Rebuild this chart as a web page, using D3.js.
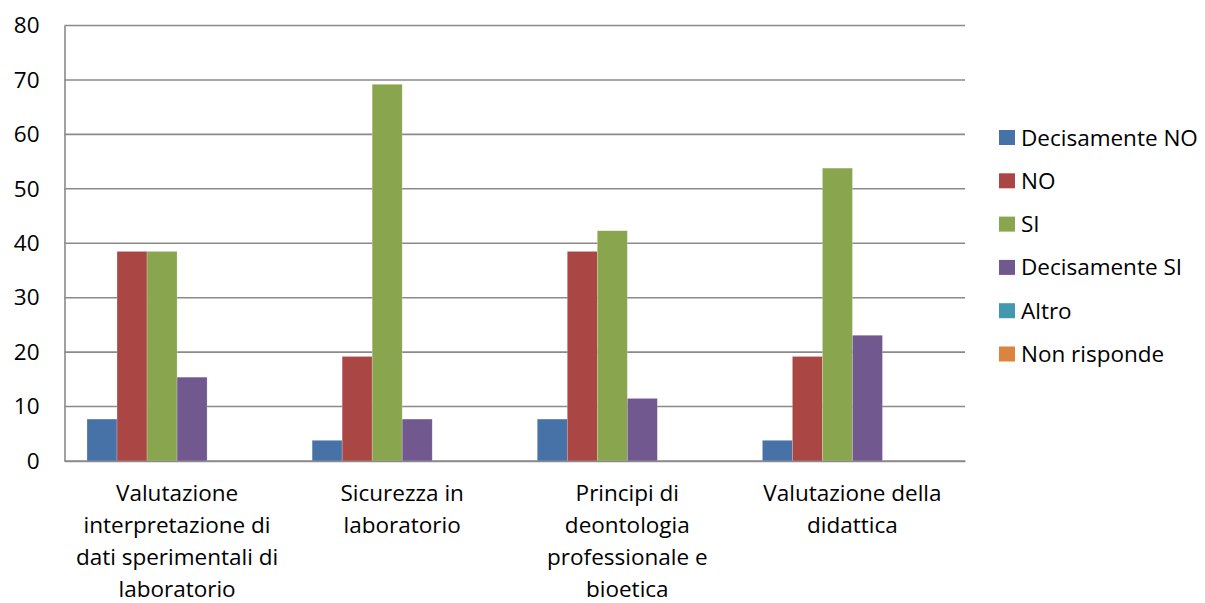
<!DOCTYPE html>
<html>
<head>
<meta charset="utf-8">
<script src="https://cdn.jsdelivr.net/npm/d3@7"></script>
<style>
  body { margin: 0; background: #fff; }
  svg text { font-family: "Open Sans", Lato, sans-serif; fill: #000; }
</style>
</head>
<body>
<svg id="chart" width="1205" height="603"></svg>
<script>
// category labels, already split on the lines they wrap to
const categories = [
  ['Valutazione', 'interpretazione di', 'dati sperimentali di', 'laboratorio'],
  ['Sicurezza in', 'laboratorio'],
  ['Principi di', 'deontologia', 'professionale e', 'bioetica'],
  ['Valutazione della', 'didattica']
];
const seriesNames = ['Decisamente NO', 'NO', 'SI', 'Decisamente SI', 'Altro', 'Non risponde'];
const seriesColors = ['#4672A8', '#AA4643', '#89A54E', '#71588F', '#4198AF', '#DB843D'];

// one array per series, one value per category
const decisamenteNo = [7.7, 3.8, 7.7, 3.8];
const no = [38.5, 19.2, 38.5, 19.2];
const si = [38.5, 69.2, 42.3, 53.8];
const decisamenteSi = [15.4, 7.7, 11.5, 23.1];
const altro = [0, 0, 0, 0];
const nonRisponde = [0, 0, 0, 0];
const yTicks = [0, 10, 20, 30, 40, 50, 60, 70, 80];

const seriesValues = [decisamenteNo, no, si, decisamenteSi, altro, nonRisponde];

const svg = d3.select('#chart');
const margin = { left: 64.5, right: 240, top: 25.5, bottom: 142 };
const width = 1205, height = 603;
const fontSize = '22.5px';

const x0 = d3.scaleBand()
  .domain(d3.range(categories.length))
  .range([margin.left, width - margin.right])
  .paddingInner(0.2)
  .paddingOuter(0.1);

const x1 = d3.scaleBand()
  .domain(d3.range(seriesNames.length))
  .range([0, x0.bandwidth()]);

const y = d3.scaleLinear()
  .domain([0, 80])
  .range([height - margin.bottom, margin.top]);

// gridlines
svg.append('g')
  .selectAll('line')
  .data(yTicks)
  .enter()
  .append('line')
  .attr('x1', margin.left)
  .attr('x2', width - margin.right)
  .attr('y1', d => y(d))
  .attr('y2', d => y(d))
  .attr('stroke', '#8a8a8a')
  .attr('stroke-width', 1.6);

// bars
const groups = svg.append('g')
  .selectAll('g')
  .data(categories)
  .enter()
  .append('g')
  .attr('transform', (d, i) => `translate(${x0(i)},0)`);

groups.selectAll('rect')
  .data((d, i) => seriesValues.map((s, k) => ({ k, v: s[i] })))
  .enter()
  .append('rect')
  .attr('x', d => x1(d.k))
  .attr('width', x1.bandwidth())
  .attr('y', d => y(d.v))
  .attr('height', d => y(0) - y(d.v))
  .attr('fill', d => seriesColors[d.k])
  .attr('stroke', 'rgba(255,255,255,0.35)')
  .attr('stroke-width', 0.6);

// y axis
const yAxis = svg.append('g')
  .attr('transform', `translate(${margin.left},0)`)
  .call(d3.axisLeft(y).tickValues(yTicks).tickSize(0).tickPadding(25));
yAxis.select('.domain').attr('stroke', '#8a8a8a').attr('stroke-width', 1.6);
yAxis.selectAll('text').style('font-size', fontSize);

// x axis
const xBand = d3.scaleBand().domain(d3.range(categories.length)).range([margin.left, width - margin.right]);
const xAxis = svg.append('g')
  .attr('transform', `translate(0,${y(0)})`)
  .call(d3.axisBottom(xBand).tickSize(0).tickFormat(''));
xAxis.select('.domain').attr('stroke', '#8a8a8a').attr('stroke-width', 1.6);

svg.append('g')
  .selectAll('text')
  .data(categories)
  .enter()
  .append('text')
  .attr('text-anchor', 'middle')
  .style('font-size', fontSize)
  .each(function (lines, i) {
    const t = d3.select(this);
    lines.forEach((line, j) => {
      t.append('tspan')
        .attr('x', xBand(i) + xBand.bandwidth() / 2)
        .attr('y', 501 + j * 32)
        .text(line);
    });
  });

// legend
const legend = svg.append('g')
  .attr('transform', 'translate(999,130)')
  .selectAll('g')
  .data(seriesNames)
  .enter()
  .append('g')
  .attr('transform', (d, i) => `translate(0,${i * 43.3})`);

legend.append('rect')
  .attr('width', 16)
  .attr('height', 15)
  .attr('fill', (d, i) => seriesColors[i]);

legend.append('text')
  .attr('x', 22)
  .attr('y', 15.5)
  .style('font-size', fontSize)
  .text(d => d);
</script>
</body>
</html>
